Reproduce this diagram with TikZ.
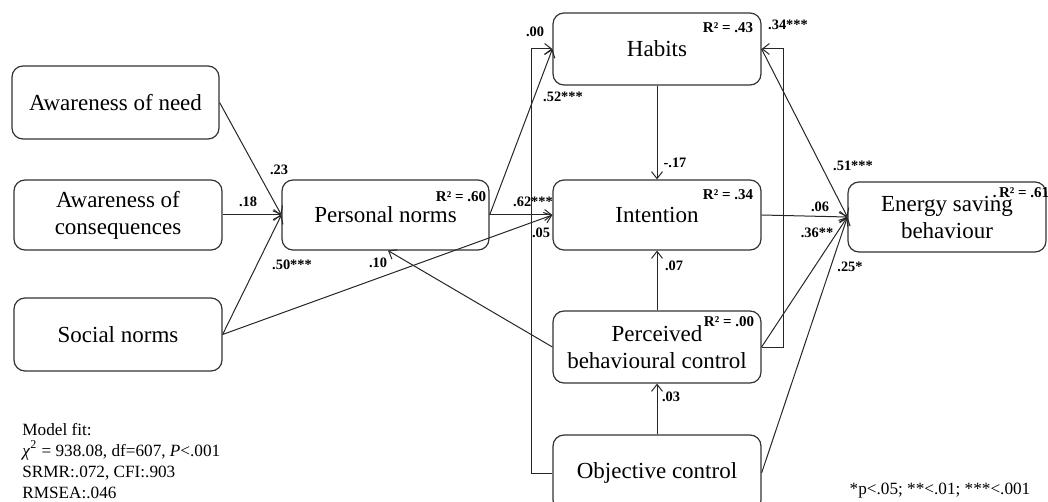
\documentclass[tikz,border=0pt]{standalone}
\usepackage{fontspec}
\setmainfont{Liberation Serif}
\usetikzlibrary{arrows.meta,calc}
\begin{document}
\begin{tikzpicture}[x=0.5pt,y=-0.5pt,
  box/.style={draw=black!80,line width=0.6pt,rounded corners=5.5pt,align=center,
    font=\fontsize{11.5}{13.5}\selectfont,inner sep=0pt},
  arr/.style={draw=black!85,line width=0.5pt,-{Straight Barb[length=3.5pt,width=5.5pt]}},
  ln/.style={draw=black!85,line width=0.5pt},
  lab/.style={font=\fontsize{7.2}{8}\selectfont\bfseries,inner sep=0pt},
  rsq/.style={font=\fontsize{7.5}{8}\selectfont\bfseries,inner sep=0pt},
  note/.style={font=\fontsize{8.6}{10.5}\selectfont,inner sep=0pt,align=left}]
\clip (0,0) rectangle (1048,502);
\useasboundingbox (0,0) rectangle (1048,502);
% boxes
\node[box,minimum width=103.5pt,minimum height=36.5pt] (aon) at (115.5,102.5) {Awareness of need};
\node[box,minimum width=104pt,minimum height=35pt] (aoc) at (118,215) {Awareness of\\consequences};
\node[box,minimum width=104pt,minimum height=36.5pt] (sn) at (118,334.5) {Social norms};
\node[box,minimum width=103.5pt,minimum height=35pt] (pn) at (385.5,215) {Personal norms};
\node[box,minimum width=104pt,minimum height=36pt] (hab) at (657,49) {Habits};
\node[box,minimum width=104pt,minimum height=35pt] (int) at (657,215) {Intention};
\node[box,minimum width=104pt,minimum height=36pt] (pbc) at (657,347) {Perceived\\behavioural control};
\node[box,minimum width=104pt,minimum height=38pt] (oc) at (657,473) {Objective control};
\node[box,minimum width=99pt,minimum height=35pt] (esb) at (947,217) {Energy saving\\behaviour};
% R squared
\node[rsq] (r1) at (461,197) {R² = .60};
\node[rsq] (r2) at (728,28) {R² = .43};
\node[rsq] (r3) at (728,195) {R² = .34};
\node[rsq] (r4) at (729,322) {R² = .00};
\node[rsq] (r5) at (1021,193) {.\,R² = .61};
% connectors
\draw[arr] (aon.east) -- (pn.west);
\draw[arr] (aoc.east) -- (pn.west);
\draw[arr] (sn.east) -- (pn.west);
\draw[arr] (sn.east) -- (int.west);
\draw[arr] (pn.east) -- (hab.west);
\draw[arr] (pn.east) -- (int.west);
\draw[arr] (hab.south) -- (int.north);
\draw[arr] (pbc.west) -- ($(pn.south)+(2.5,0)$);
\draw[arr] (pbc.north) -- (int.south);
\draw[arr] (oc.north) -- (pbc.south);
\draw[arr] (oc.west) -| ($(hab.west)+(-21,0)$) -- (hab.west);
\draw[arr] (pbc.east) -| ($(hab.east)+(22,0)$) -- (hab.east);
\draw[arr] (hab.east) -- (esb.west);
\draw[arr] (int.east) -- (esb.west);
\draw[arr] (pbc.east) -- (esb.west);
\draw[arr] (oc.east) -- (esb.west);
% path labels
\node[lab] (l1) at (279,170) {.23};
\node[lab] (l2) at (248,202) {.18};
\node[lab] (l3) at (292,265) {.50***};
\node[lab] (l4) at (378,263) {.10};
\node[lab] (l5) at (535,32) {.00};
\node[lab] (l6) at (563,97) {.52***};
\node[lab] (l7) at (533,202) {.62***};
\node[lab] (l8) at (541,233) {.05};
\node[lab] (l9) at (675,163) {-.17};
\node[lab] (l10) at (674,266) {.07};
\node[lab] (l11) at (671,397) {.03};
\node[lab] (l12) at (788,25) {.34***};
\node[lab] (l13) at (853,166) {.51***};
\node[lab] (l14) at (820,207) {.06};
\node[lab] (l15) at (817,233) {.36**};
\node[lab] (l16) at (850,267) {.25*};
% notes
\node[note,anchor=north west] (fit) at (22,423) {Model fit:\\\textit{χ}\textsuperscript{2} = 938.08, df=607, \textit{P}<.001\\SRMR:.072, CFI:.903\\RMSEA:.046};
\node[note] (sig) at (940,491) {*p<.05; **<.01; ***<.001};
\end{tikzpicture}
\end{document}
